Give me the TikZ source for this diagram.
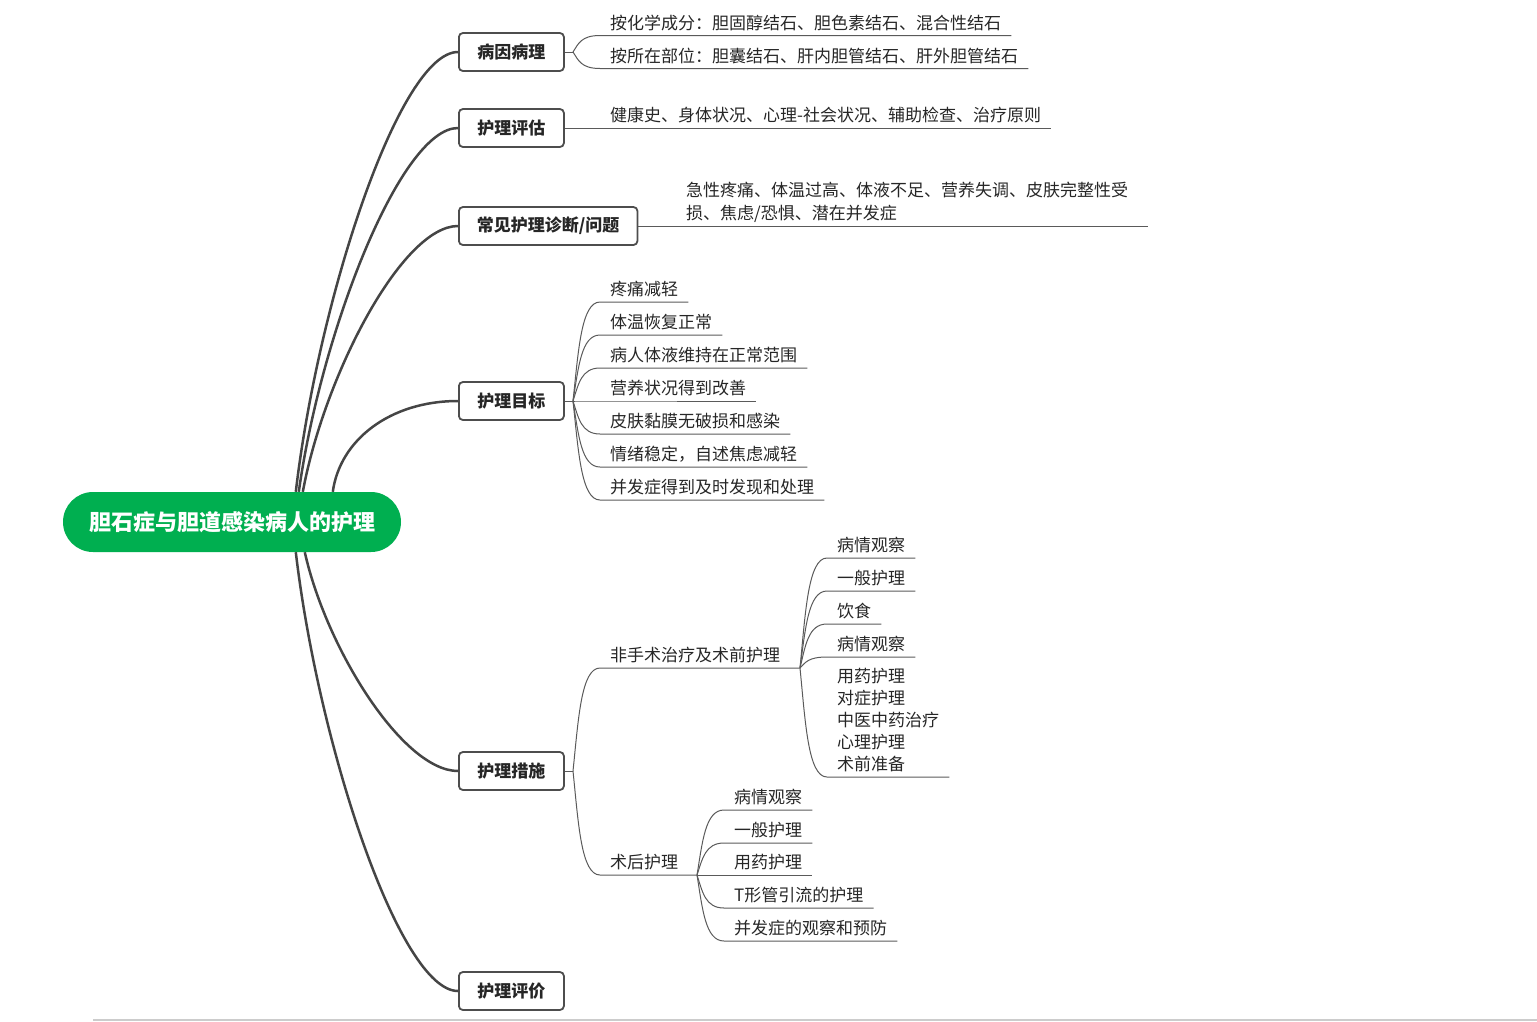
\documentclass[tikz,border=0pt]{standalone}
\usepackage{fontspec}
\setmainfont{Noto Sans CJK SC}
\usetikzlibrary{calc}
\definecolor{rootgreen}{HTML}{00AF50}
\definecolor{linec}{HTML}{454545}
\definecolor{subc}{HTML}{5A5A5A}
\definecolor{boxc}{HTML}{4D4D4D}
\definecolor{txt}{HTML}{262626}
\begin{document}
\begin{tikzpicture}[x=1pt,y=-1pt,
  rootnode/.style={rounded corners=30pt, fill=rootgreen, minimum width=338pt, minimum height=60pt, inner sep=0pt, text=white, font=\fontsize{22}{26}\selectfont\bfseries},
  topic/.style={draw=boxc, line width=1.8pt, rounded corners=4pt, fill=white, minimum height=38pt, minimum width=105pt, inner xsep=18pt, inner ysep=0pt, text=txt, font=\fontsize{17}{20}\selectfont\bfseries, anchor=west},
  leaf/.style={anchor=south west, inner xsep=10pt, inner ysep=0pt, text depth=6pt, text=txt, font=\fontsize{17}{20}\selectfont},
  mainline/.style={draw=linec, line width=2.5pt},
  subline/.style={draw=subc, line width=1pt},
  curv/.style n args={3}{to path={let \p1=(\tikztostart), \p2=(\tikztotarget) in .. controls ({\x1+#1*(\x2-\x1)},{\y1+#2*(\y2-\y1)}) and ({\x1+#3*(\x2-\x1)},{\y2}) .. (\tikztotarget) \tikztonodes}},
  subcurve/.style={curv={0.2}{0.5}{0.3}},
  maincurve/.style={curv={0.14}{0.44}{0.64}}
]
\useasboundingbox (0,0) rectangle (1537,1021);

% root
\node[rootnode] (root) at (232,522) {胆石症与胆道感染病人的护理};

% first level topics
\node[topic] (t1) at (458,52) {病因病理};
\node[topic] (t2) at (458,128) {护理评估};
\node[topic] (t3) at (458,226) {常见护理诊断/问题};
\node[topic] (t4) at (458,401) {护理目标};
\node[topic] (t5) at (458,771) {护理措施};
\node[topic] (t6) at (458,991) {护理评价};

% start points on root
\coordinate (s1) at ($(root.north west)+(233,0)$);
\coordinate (s2) at ($(root.north west)+(236,0)$);
\coordinate (s3) at ($(root.north west)+(240,0)$);
\coordinate (s4) at ($(root.north west)+(270,0)$);
\coordinate (s5) at ($(root.south west)+(242,0)$);
\coordinate (s6) at ($(root.south west)+(233,0)$);

\draw[mainline] (s1) to[maincurve] (t1.west);
\draw[mainline] (s2) to[maincurve] (t2.west);
\draw[mainline] (s3) to[maincurve] (t3.west);
\draw[mainline] (s4) to[curv={0.056}{0.57}{0.456}] (t4.west);
\draw[mainline] (s5) to[maincurve] (t5.west);
\draw[mainline] (s6) to[maincurve] (t6.west);

% 病因病理
\node[leaf] (a1) at (600,35.5) {按化学成分：胆固醇结石、胆色素结石、混合性结石};
\node[leaf] (a2) at (600,68.5) {按所在部位：胆囊结石、肝内胆管结石、肝外胆管结石};
\coordinate (ja) at (573,52);
\draw[subline] (t1.east) -- (ja);
\draw[subline] (ja) to[subcurve] (a1.south west) -- (a1.south east);
\draw[subline] (ja) to[subcurve] (a2.south west) -- (a2.south east);

% 护理评估
\node[leaf] (b1) at (600,128) {健康史、身体状况、心理-社会状况、辅助检查、治疗原则};
\draw[subline] (t2.east) -- (b1.south east);

% 常见护理诊断/问题
\node[leaf, text depth=29pt] (c1) at (676,226) {\vtop{\baselineskip=23pt\hbox{急性疼痛、体温过高、体液不足、营养失调、皮肤完整性受}\hbox{损、焦虑/恐惧、潜在并发症}}};
\draw[subline] (t3.east) -- ($(c1.south east)+(10,0)$);

% 护理目标
\node[leaf] (d1) at (600,302) {疼痛减轻};
\node[leaf] (d2) at (600,335) {体温恢复正常};
\node[leaf] (d3) at (600,368) {病人体液维持在正常范围};
\node[leaf] (d4) at (600,401) {营养状况得到改善};
\node[leaf] (d5) at (600,434) {皮肤黏膜无破损和感染};
\node[leaf] (d6) at (600,467) {情绪稳定，自述焦虑减轻};
\node[leaf] (d7) at (600,500) {并发症得到及时发现和处理};
\coordinate (jd) at (573,401);
\draw[subline] (t4.east) -- (jd);
\foreach \nd in {d1,d2,d3,d4,d5,d6,d7}
  \draw[subline] (jd) to[subcurve] (\nd.south west) -- (\nd.south east);

% 护理措施
\node[leaf] (e1) at (600,668) {非手术治疗及术前护理};
\node[leaf] (e2) at (600,875) {术后护理};
\coordinate (je) at (573,771);
\coordinate (je1) at (800,668);
\coordinate (je2) at (697,875);
\draw[subline] (t5.east) -- (je);
\draw[subline] (je) to[subcurve] (e1.south west) -- (je1);
\draw[subline] (je) to[subcurve] (e2.south west) -- (je2);

\node[leaf] (f1) at (827,558) {病情观察};
\node[leaf] (f2) at (827,591) {一般护理};
\node[leaf] (f3) at (827,624) {饮食};
\node[leaf] (f4) at (827,657) {病情观察};
\node[leaf, text depth=94pt] (f5) at (827,777) {\vtop{\baselineskip=22pt\hbox{用药护理}\hbox{对症护理}\hbox{中医中药治疗}\hbox{心理护理}\hbox{术前准备}}};
\foreach \nd in {f1,f2,f3,f4,f5}
  \draw[subline] (je1) to[subcurve] (\nd.south west) -- (\nd.south east);

\node[leaf] (g1) at (724,810) {病情观察};
\node[leaf] (g2) at (724,843) {一般护理};
\node[leaf] (g3) at (724,875) {用药护理};
\node[leaf] (g4) at (724,908) {T形管引流的护理};
\node[leaf] (g5) at (724,941) {并发症的观察和预防};
\foreach \nd in {g1,g2,g3,g4,g5}
  \draw[subline] (je2) to[subcurve] (\nd.south west) -- (\nd.south east);

% bottom rule
\coordinate (bl) at (93,1020);
\coordinate (br) at (1537,1020);
\draw[draw=black!20, line width=1.5pt] (bl) -- (br);
\end{tikzpicture}
\end{document}
